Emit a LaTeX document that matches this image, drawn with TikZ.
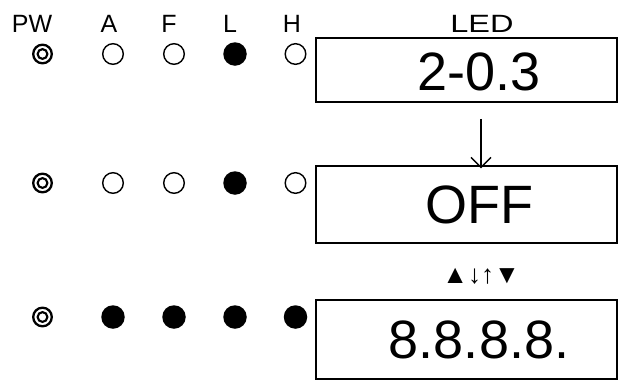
\documentclass[tikz,border=0pt]{standalone}
\usepackage{fontspec}
\setmainfont{Liberation Sans}
\usetikzlibrary{arrows.meta}

\tikzset{
  ledoff/.style={circle, draw, line width=1.4pt, minimum size=20.6pt, inner sep=0pt},
  ledon/.style={circle, fill=black, minimum size=23.5pt, inner sep=0pt},
  ledpw/.style={circle, draw, line width=2.3pt, minimum size=18.6pt, inner sep=0pt,
    path picture={\draw[line width=2.1pt] (path picture bounding box.center) circle (4.9pt);}},
  colhead/.style={font=\fontsize{25}{25}\selectfont, anchor=base},
  ledbox/.style={draw, line width=1.5pt, minimum width=301pt, inner sep=0pt},
  ledtext/.style={font=\fontsize{54}{54}\selectfont, anchor=base},
}

\begin{document}
\begin{tikzpicture}[x=1pt, y=-1pt]
  \useasboundingbox (0,0) rectangle (622,381);
  % column heads
  \node[colhead] (hPW) at (32,32) {PW};
  \node[colhead] (hA) at (109,32) {A};
  \node[colhead] (hF) at (169,32) {F};
  \node[colhead] (hL) at (230,32) {L};
  \node[colhead] (hH) at (292,32) {H};
  \node[colhead] (hLED) at (482,32) {\scalebox{1.3}[1]{LED}};

  % first state
  \node[ledpw]  (pw1) at (42.5,54) {};
  \node[ledoff] (a1)  at (113,54) {};
  \node[ledoff] (f1)  at (174,54) {};
  \node[ledon]  (l1)  at (235,54) {};
  \node[ledoff] (h1)  at (295.5,54) {};
  \node[ledbox, minimum height=64pt] (box1) at (466.5,70) {};
  \node[ledtext] (txt1) at (479,90) {2-0.3};

  % second state
  \node[ledpw]  (pw2) at (42.5,183) {};
  \node[ledoff] (a2)  at (113,183) {};
  \node[ledoff] (f2)  at (174,183) {};
  \node[ledon]  (l2)  at (235,183) {};
  \node[ledoff] (h2)  at (295.5,183) {};
  \node[ledbox, minimum height=77pt] (box2) at (466.5,204.5) {};
  \node[ledtext] (txt2) at (479,223) {OFF};

  % third state
  \node[ledpw] (pw3) at (42.5,317) {};
  \node[ledon] (a3)  at (113,317) {};
  \node[ledon] (f3)  at (174,317) {};
  \node[ledon] (l3)  at (235,317) {};
  \node[ledon] (h3)  at (295.5,317) {};
  \node[ledbox, minimum height=79pt] (box3) at (466.5,339.5) {};
  \node[ledtext] (txt3) at (479,358) {8.8.8.8.};

  \node[font=\fontsize{26}{26}\selectfont, anchor=base] (keys) at (481,283) {▲↓↑▼};

  \draw[line width=1.4pt, -{Straight Barb[length=10pt, width=20pt]}]
    ([xshift=14.5pt, yshift=-16pt]box1.south) -- ([xshift=14.5pt, yshift=-3pt]box2.north);
\end{tikzpicture}
\end{document}
